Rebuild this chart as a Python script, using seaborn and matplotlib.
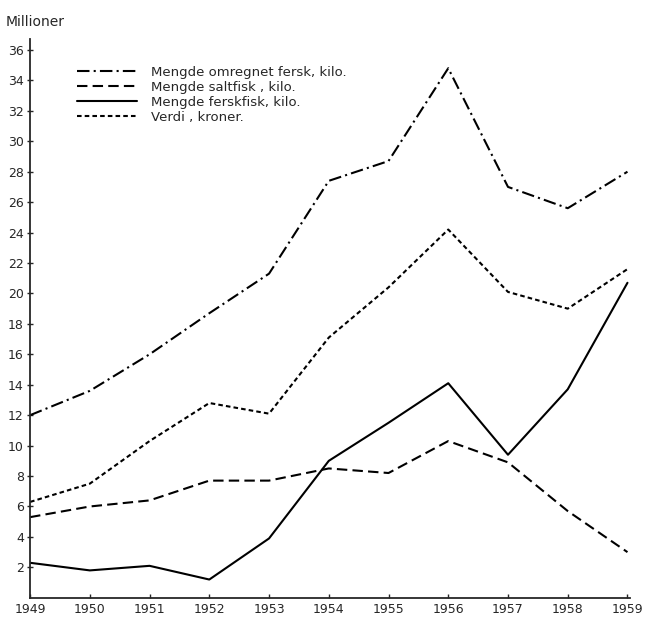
import pandas as pd
import numpy as np
import seaborn as sns
import matplotlib.pyplot as plt

# values (millions)
years = [1949, 1950, 1951, 1952, 1953, 1954, 1955, 1956, 1957, 1958, 1959]
omregnet = [12.0, 13.6, 16.0, 18.7, 21.3, 27.4, 28.7, 34.8, 27.0, 25.6, 28.0]
saltfisk = [5.3, 6.0, 6.4, 7.7, 7.7, 8.5, 8.2, 10.3, 8.9, 5.7, 3.0]
ferskfisk = [2.3, 1.8, 2.1, 1.2, 3.9, 9.0, 11.5, 14.1, 9.4, 13.7, 20.7]
verdi = [6.3, 7.5, 10.3, 12.8, 12.1, 17.1, 20.4, 24.2, 20.1, 19.0, 21.6]

labels = ['Mengde omregnet fersk, kilo.', 'Mengde saltfisk , kilo.',
          'Mengde ferskfisk, kilo.', 'Verdi , kroner.']
yticks = list(range(2, 37, 2))

df = pd.concat([
    pd.DataFrame({'year': years, 'value': vals, 'series': lab})
    for lab, vals in zip(labels, [omregnet, saltfisk, ferskfisk, verdi])],
    ignore_index=True)

sns.set_style('ticks')
plt.rcParams['font.family'] = ['DejaVu Sans']

fig = plt.figure(figsize=(6.54, 6.24), dpi=100)
ax = fig.add_axes([0.046, 0.042, 0.918, 0.895])

dashes = {labels[0]: (6, 2, 1, 2),
          labels[1]: (5, 2.5),
          labels[2]: '',
          labels[3]: (2.2, 1.5)}
palette = {lab: 'black' for lab in labels}

sns.lineplot(data=df, x='year', y='value', hue='series', style='series',
             dashes=dashes, palette=palette, linewidth=1.5, ax=ax)

ax.set_xlim(1949, 1959.05)
ax.set_ylim(0, 36.7)
ax.set_xticks(years)
ax.set_xticklabels([str(y) for y in years], fontsize=9)
ax.set_yticks(yticks)
ax.set_yticklabels([str(t) for t in yticks], fontsize=9)
ax.tick_params(axis='y', direction='inout', length=5, width=1, pad=2)
ax.tick_params(axis='x', direction='in', length=3, width=1, pad=4)
ax.set_xlabel('')
ax.set_ylabel('')
sns.despine(ax=ax)
for s in ['left', 'bottom']:
    ax.spines[s].set_linewidth(1.3)

fig.text(0.008, 0.965, 'Millioner', fontsize=10, va='center', ha='left')

leg = ax.legend(loc='upper left', bbox_to_anchor=(0.07, 0.962), frameon=False,
                fontsize=9.5, handlelength=4.5, labelspacing=0.15,
                handletextpad=1.1, borderaxespad=0)

fig.savefig('out.png', dpi=100)
